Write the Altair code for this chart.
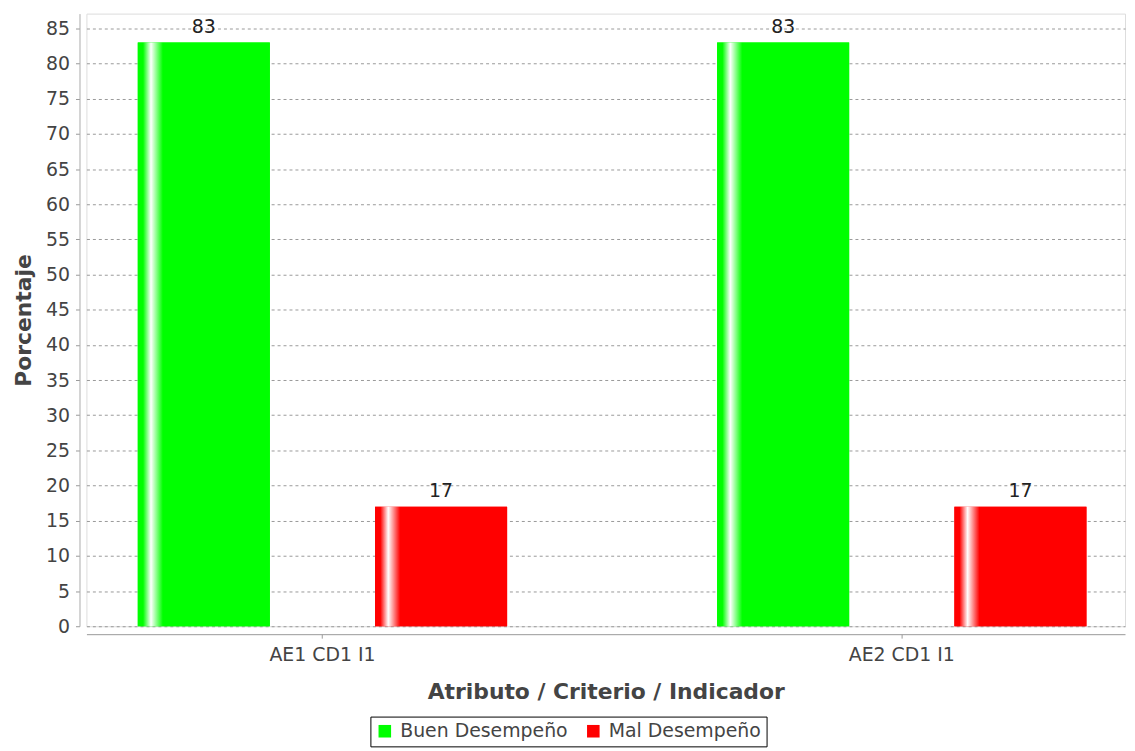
import altair as alt
import pandas as pd

categorias = ["AE1 CD1 I1", "AE2 CD1 I1"]
series = ["Buen Desempeño", "Mal Desempeño"]
buen = [83, 83]
mal = [17, 17]
colores = ["#00ff00", "#ff0000"]

rows = []
for i, c in enumerate(categorias):
    rows.append({"cat": c, "serie": series[0], "valor": buen[i]})
    rows.append({"cat": c, "serie": series[1], "valor": mal[i]})
df = pd.DataFrame(rows)

FONT = "DejaVu Sans"

x_enc = alt.X(
    "cat:N",
    sort=categorias,
    scale=alt.Scale(paddingInner=0.3625, paddingOuter=0.0776, align=0.571),
    axis=alt.Axis(
        title="Atributo / Criterio / Indicador",
        labelAngle=0,
        labelFont=FONT, labelFontSize=19, labelColor="#444444",
        titleFont=FONT, titleFontSize=22, titleFontWeight="bold", titleColor="#444444",
        domainColor="#999999", tickColor="#999999", tickSize=4,
        offset=8, labelPadding=8, titlePadding=17, grid=False,
    ),
)
xoff_enc = alt.XOffset("serie:N", sort=series,
                       scale=alt.Scale(paddingInner=0.4435, paddingOuter=0))
y_enc = alt.Y(
    "valor:Q",
    scale=alt.Scale(domain=[0, 87.1], nice=False, zero=True),
    axis=alt.Axis(
        title="Porcentaje",
        values=list(range(0, 90, 5)),
        labelFont=FONT, labelFontSize=19, labelColor="#444444",
        titleFont=FONT, titleFontSize=22, titleFontWeight="bold", titleColor="#444444",
        domainColor="#aaaaaa", tickColor="#999999", tickSize=4,
        offset=7, labelPadding=6, titlePadding=10,
        grid=True, gridColor="#999999", gridDash=[3, 3], gridWidth=1,
    ),
)

base = alt.Chart(df).encode(x=x_enc, xOffset=xoff_enc, y=y_enc)

solid = base.mark_bar().encode(
    color=alt.Color(
        "serie:N",
        sort=series,
        scale=alt.Scale(domain=series, range=colores),
        legend=alt.Legend(
            title=None, orient="none", legendX=286, legendY=708,
            direction="horizontal", strokeColor="black", padding=5,
            symbolType="square", symbolSize=160, symbolStrokeWidth=0,
            labelFont=FONT, labelFontSize=19, labelColor="#444444",
            labelOffset=6, columnPadding=16, symbolOpacity=1, labelLimit=500,
        ),
    )
)


def grad(col):
    return alt.Gradient(
        gradient="linear", x1=0, x2=1, y1=0, y2=0,
        stops=[
            alt.GradientStop(offset=0, color=col),
            alt.GradientStop(offset=0.04, color=col),
            alt.GradientStop(offset=0.1, color="#ffffff"),
            alt.GradientStop(offset=0.19, color=col),
            alt.GradientStop(offset=1, color=col),
        ],
    )


g_buen = base.transform_filter(alt.datum.serie == series[0]).mark_bar(fill=grad(colores[0]))
g_mal = base.transform_filter(alt.datum.serie == series[1]).mark_bar(fill=grad(colores[1]))

labels = base.mark_text(
    baseline="bottom", dy=-6, font=FONT, fontSize=19, color="#222222"
).encode(text="valor:Q")

chart = (
    alt.layer(solid, g_buen, g_mal, labels)
    .properties(
        width=1046, height=617,
        autosize=alt.AutoSizeParams(type="none"),
        padding={"left": 79, "top": 3, "right": 2, "bottom": 122},
    )
    .configure_view(stroke="#888888", strokeWidth=1)
    .configure(background="white")
)

chart.save("out.html", embed_options={"renderer": "svg", "actions": False})
